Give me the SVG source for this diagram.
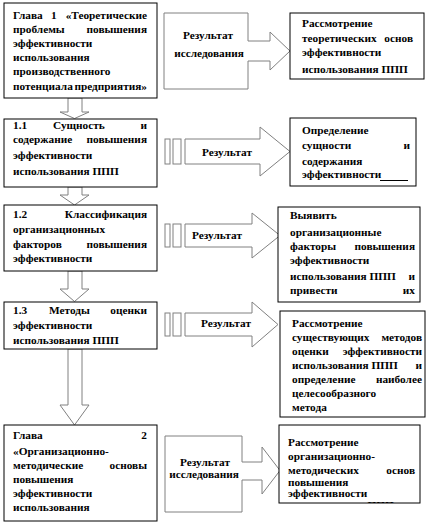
<svg xmlns="http://www.w3.org/2000/svg" width="428" height="525" viewBox="0 0 428 525">
<style>
text{font-family:"Liberation Serif","Times New Roman",serif;font-weight:bold;font-size:11.3px;fill:#000}
.e{text-anchor:end}
.m{text-anchor:middle}
.box{fill:#fff;stroke:#000;stroke-width:1}
.arr{fill:#fff;stroke:#808080;stroke-width:1}
</style>
<defs>
<clipPath id="c3"><rect x="278" y="207" width="142" height="95"/></clipPath>
<clipPath id="c5"><rect x="279" y="425" width="141" height="78"/></clipPath>
</defs>

<g id="connectors">
<path class="arr" d="M68,98 V112 H60 L74.5,118.5 L89,112 H82 V98 Z"/>
<path class="arr" d="M68,187 V195 H60 L74.5,205 L89,195 H82 V187 Z"/>
<path class="arr" d="M68,271 V289 H60 L74.5,301.5 L89,289 H82 V271 Z"/>
<path class="arr" d="M68,349 V405 H60 L74.5,425 L89,405 H82 V349 Z"/>
</g>

<g id="ch1">
<rect class="box" x="4" y="3" width="153" height="95"/>
<text x="13" y="19">Глава</text><text x="51" y="19">1</text><text class="e" x="147" y="19">«Теоретические</text>
<text x="13" y="33">проблемы</text><text class="e" x="147" y="33">повышения</text>
<text x="13" y="47">эффективности</text>
<text x="13" y="61">использования</text>
<text x="13" y="75">производственного</text>
<text x="13" y="90">потенциала</text><text class="e" x="147" y="90">предприятия»</text>
</g>

<g id="res1">
<path class="arr" d="M164,13 H248 V41 H270 V32 L290,51 L270,70 V61 H248 V89 H164 Z"/>
<text class="m" x="208" y="39">Результат</text>
<text class="m" x="209" y="57">исследования</text>
</g>

<g id="out1">
<rect class="box" x="290" y="13" width="134" height="66"/>
<text x="302" y="27">Рассмотрение</text>
<text x="302" y="42">теоретических</text><text class="e" x="413" y="42">основ</text>
<text x="302" y="56">эффективности</text>
<text x="302" y="73">использования ППП</text>
</g>

<g id="s11">
<rect class="box" x="4" y="119" width="153" height="68"/>
<text x="13" y="129">1.1</text><text x="53" y="129">Сущность</text><text class="e" x="147" y="129">и</text>
<text x="13" y="143">содержание</text><text class="e" x="147" y="143">повышения</text>
<text x="13" y="159">эффективности</text>
<text x="13" y="175">использования ППП</text>
</g>

<g id="res2">
<rect class="arr" x="165" y="139" width="5" height="25"/>
<rect class="arr" x="173" y="139" width="8" height="25"/>
<path class="arr" d="M185,139 H260 V127 L290,151.5 L260,176 V164 H185 Z"/>
<text class="m" x="227" y="156">Результат</text>
</g>

<g id="out2">
<rect class="box" x="290" y="118" width="126" height="68"/>
<text x="302" y="134">Определение</text>
<text x="302" y="149">сущности</text><text class="e" x="410" y="149">и</text>
<text x="302" y="165">содержания</text>
<text x="302" y="178">эффективности</text>
<line x1="380" y1="180.5" x2="408" y2="180.5" stroke="#000" stroke-width="1"/>
</g>

<g id="s12">
<rect class="box" x="4" y="205" width="153" height="66"/>
<text x="13" y="218">1.2</text><text class="e" x="147" y="218">Классификация</text>
<text x="13" y="233">организационных</text>
<text x="13" y="248">факторов</text><text class="e" x="147" y="248">повышения</text>
<text x="13" y="262">эффективности</text>
</g>

<g id="res3">
<rect class="arr" x="165" y="224" width="5" height="23"/>
<rect class="arr" x="173" y="224" width="8" height="23"/>
<path class="arr" d="M185,224 H252 V213 L280,235.5 L252,258 V247 H185 Z"/>
<text class="m" x="217" y="239">Результат</text>
</g>

<g id="out3">
<rect class="box" x="278" y="207" width="142" height="95"/>
<g clip-path="url(#c3)">
<text x="290" y="219">Выявить</text>
<text x="290" y="236">организационные</text>
<text x="290" y="250">факторы</text><text class="e" x="415" y="250">повышения</text>
<text x="290" y="264">эффективности</text>
<text x="290" y="280">использования ППП</text><text class="e" x="415" y="280">и</text>
<text x="290" y="294">привести</text><text class="e" x="415" y="294">их</text>
</g>
</g>

<g id="s13">
<rect class="box" x="4" y="302" width="153" height="47"/>
<text x="13" y="314">1.3</text><text x="49" y="314">Методы</text><text class="e" x="147" y="314">оценки</text>
<text x="13" y="329">эффективности</text>
<text x="13" y="344">использования ППП</text>
</g>

<g id="res4">
<rect class="arr" x="165" y="313" width="5" height="23"/>
<rect class="arr" x="173" y="313" width="8" height="23"/>
<path class="arr" d="M185,313 H252 V302 L278,324.5 L252,347 V336 H185 Z"/>
<text class="m" x="226" y="327">Результат</text>
</g>

<g id="out4">
<rect class="box" x="280" y="311" width="145" height="106"/>
<text x="292" y="327">Рассмотрение</text>
<text x="292" y="341">существующих</text><text class="e" x="422" y="341">методов</text>
<text x="292" y="355">оценки</text><text class="e" x="422" y="355">эффективности</text>
<text x="292" y="369">использования ППП</text><text class="e" x="422" y="369">и</text>
<text x="292" y="383">определение</text><text class="e" x="422" y="383">наиболее</text>
<text x="292" y="397">целесообразного</text>
<text x="292" y="411">метода</text>
</g>

<g id="ch2">
<rect class="box" x="4" y="425" width="153" height="96"/>
<text x="13" y="439">Глава</text><text class="e" x="147" y="439">2</text>
<text x="13" y="455">«Организационно-</text>
<text x="13" y="469">методические</text><text class="e" x="147" y="469">основы</text>
<text x="13" y="483">повышения</text>
<text x="13" y="497">эффективности</text>
<text x="13" y="511">использования</text>
</g>

<g id="res5">
<path class="arr" d="M165,436 H242 V462 H262 V447 L280,470.5 L262,494 V480 H242 V512 H165 Z"/>
<text class="m" x="205" y="466">Результат</text>
<text class="m" x="204" y="478">исследования</text>
</g>

<g id="out5">
<rect class="box" x="279" y="425" width="141" height="78"/>
<g clip-path="url(#c5)">
<text x="288" y="446">Рассмотрение</text>
<text x="288" y="460">организационно-</text>
<text x="288" y="474">методических</text><text class="e" x="415" y="474">основ</text>
<text x="288" y="486">повышения</text>
<text x="288" y="497">эффективности</text>
<text x="288" y="509">использования ППП</text>
</g>
</g>
</svg>
